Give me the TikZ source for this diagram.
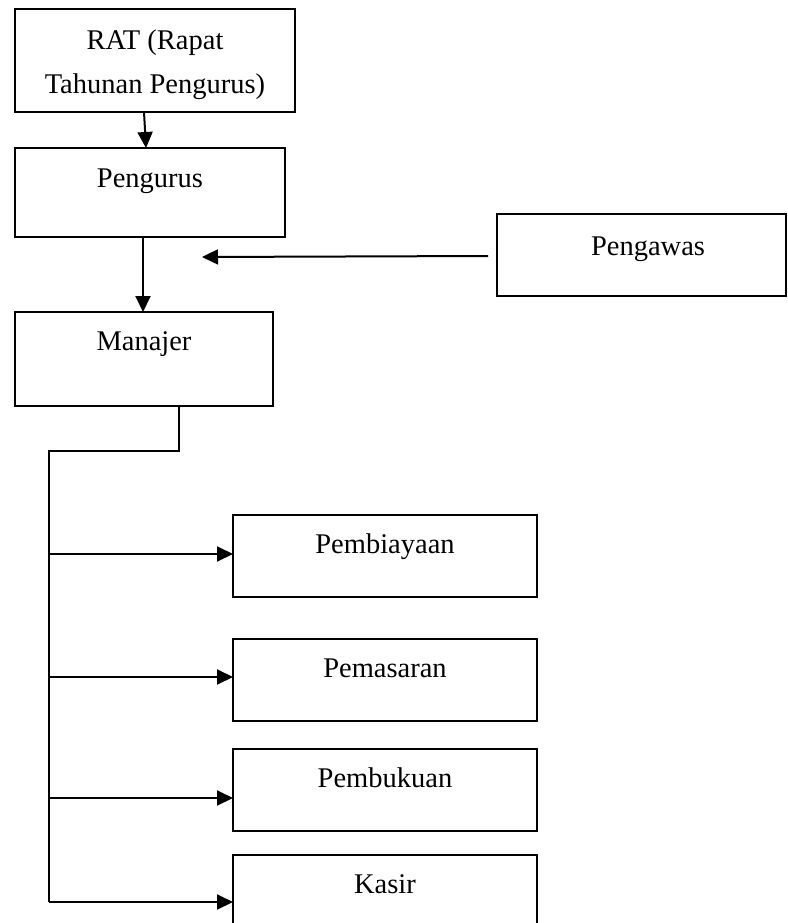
\documentclass[tikz,border=0pt]{standalone}
\usepackage{fontspec}
\setmainfont{Liberation Serif}
\usetikzlibrary{arrows.meta}
\tikzset{
  box/.style={draw, line width=1.6pt, inner sep=0pt, outer sep=0pt},
  txt/.style={font=\fontsize{28.5}{44}\selectfont, inner sep=0pt, anchor=base},
  arr/.style={line width=2pt, -{Triangle[length=16pt,width=15pt]}},
  trunk/.style={line width=1.7pt}
}
\begin{document}
\begin{tikzpicture}[x=1pt,y=-1pt]
\useasboundingbox (0,0) rectangle (787,923);
\clip (0,0) rectangle (787,923);
% boxes
\node[box, minimum width=280pt, minimum height=103pt] (rat) at (155,60.5) {};
\node[box, minimum width=270pt, minimum height=89pt] (pengurus) at (150,192.5) {};
\node[box, minimum width=258pt, minimum height=94pt] (manajer) at (144,359) {};
\node[box, minimum width=289pt, minimum height=82pt] (pengawas) at (641.5,255) {};
\node[box, minimum width=304pt, minimum height=82pt] (pembiayaan) at (385,556) {};
\node[box, minimum width=304pt, minimum height=82pt] (pemasaran) at (385,680) {};
\node[box, minimum width=304pt, minimum height=82pt] (pembukuan) at (385,790) {};
\node[box, minimum width=304pt, minimum height=82pt] (kasir) at (385,896) {};
% texts
\node[txt, anchor=center, align=center] (tRat) at (155,65) {RAT (Rapat\\Tahunan Pengurus)};
\node[txt] (tPengurus) at (150,187) {Pengurus};
\node[txt] (tManajer) at (144,350) {Manajer};
\node[txt] (tPengawas) at (648,255) {Pengawas};
\node[txt] (tPembiayaan) at (385,553) {Pembiayaan};
\node[txt] (tPemasaran) at (385,677) {Pemasaran};
\node[txt] (tPembukuan) at (385,787) {Pembukuan};
\node[txt] (tKasir) at (385,893) {Kasir};
% connectors
\draw[arr] ([xshift=-11pt]rat.south) -- ([xshift=-4pt]pengurus.north);
\draw[arr] ([xshift=-7pt]pengurus.south) -- ([xshift=-1pt]manajer.north);
\coordinate (pin) at (202,257);
\draw[arr] ([xshift=-9pt,yshift=-1pt]pengawas.west) -- (pin);
\coordinate (j0) at (49,451);
\coordinate (j1) at (49,554);
\coordinate (j2) at (49,677);
\coordinate (j3) at (49,798);
\coordinate (j4) at (49,902);
\draw[trunk] ([xshift=35pt]manajer.south) |- (j0) -- (j4);
\draw[arr] (j1) -- (j1 -| pembiayaan.west);
\draw[arr] (j2) -- (j2 -| pemasaran.west);
\draw[arr] (j3) -- (j3 -| pembukuan.west);
\draw[arr] (j4) -- (j4 -| kasir.west);
\end{tikzpicture}
\end{document}
